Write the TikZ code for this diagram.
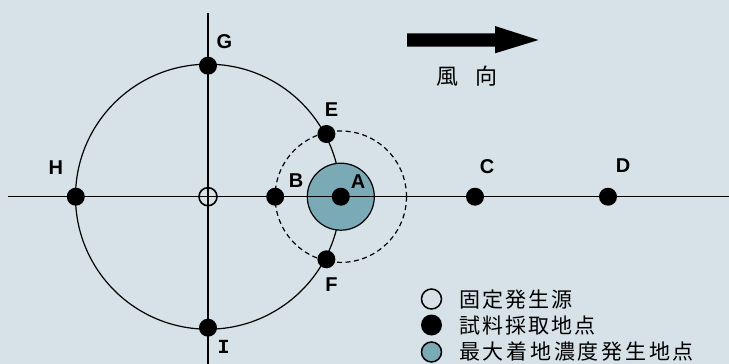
\documentclass[tikz,border=0pt]{standalone}
\usepackage{fontspec}
\setmainfont{Liberation Sans}
\newfontfamily\jp{Noto Sans CJK JP}
\newfontfamily\jpA[LetterSpace=10]{Noto Sans CJK JP}
\newfontfamily\jpB[LetterSpace=13]{Noto Sans CJK JP}
\newfontfamily\serifI{Liberation Mono}
\definecolor{bg}{RGB}{214,226,231}
\definecolor{teal}{RGB}{122,170,181}
\begin{document}
\begin{tikzpicture}[x=1pt,y=-1pt,
  dot/.style={circle,fill=black,inner sep=0pt,minimum size=18pt},
  src/.style={circle,draw=black,line width=1.6pt,inner sep=0pt,minimum size=18pt},
  lbl/.style={font=\fontsize{20}{22}\selectfont\bfseries,inner sep=0pt},
  ax/.style={line width=1.4pt},
  ring/.style={line width=1.2pt},
  legtext/.style={anchor=west,inner sep=0pt,font=\fontsize{21}{24}\selectfont}]
\fill[bg] (0,0) rectangle (729,364);
\useasboundingbox (0,0) rectangle (729,364);
% key coordinates
\coordinate (O) at (208,196.7);
\coordinate (Ac) at (340.8,196.7);
\coordinate (axL) at (8.4,196.7);
\coordinate (axR) at (729,196.7);
\coordinate (axT) at (208,13.3);
\coordinate (axB) at (208,364);
% big circle
\draw[ring] (O) circle[radius=132.5];
% max concentration area
\draw[ring,fill=teal] (Ac) circle[radius=33.5];
% axes
\draw[ax] (axL) -- (axR);
\draw[ax] (axT) -- (axB);
% dashed circle
\draw[ring,dashed,dash pattern=on 5pt off 3.5pt] (Ac) circle[radius=65.7];
% source
\node[src] (src) at (O) {};
% sampling points
\node[dot] (A) at (Ac) {};
\node[dot] (B) at (275.2,196.7) {};
\node[dot] (C) at (475,196.7) {};
\node[dot] (D) at (608,196.7) {};
\node[dot] (E) at (326.4,134) {};
\node[dot] (F) at (326.4,259.3) {};
\node[dot] (G) at (208,65.7) {};
\node[dot] (H) at (75.8,196.7) {};
\node[dot] (I) at (208,327.7) {};
% labels
\node[lbl] (lG) at (224.5,41.7) {G};
\node[lbl] (lE) at (331.5,109.3) {E};
\node[lbl] (lH) at (55.8,167.7) {H};
\node[lbl] (lB) at (296,180.3) {B};
\node[lbl] (lA) at (358,181.7) {A};
\node[lbl] (lC) at (487,166.7) {C};
\node[lbl] (lD) at (623,165.7) {D};
\node[lbl] (lF) at (331.5,285) {F};
\node[lbl,font=\fontsize{20}{22}\selectfont\bfseries\serifI] (lI) at (223.6,346.7) {I};
% wind arrow
\fill[black] (407,33.3) -- (495,33.3) -- (495,26) -- (538.5,40) -- (495,53.3) -- (495,46.7) -- (407,46.7) -- cycle;
\node[inner sep=0pt,font=\fontsize{22}{24}\selectfont\jp] (wind) at (467,76) {風\hspace{17pt}向};
% legend
\node[src,minimum size=20pt,line width=1.5pt] (k1) at (431.5,299) {};
\node[circle,fill=black,inner sep=0pt,minimum size=21pt] (k2) at (431.5,325) {};
\node[circle,draw=black,fill=teal,line width=1.5pt,inner sep=0pt,minimum size=20pt] (k3) at (431.5,352) {};
\node[legtext,font=\fontsize{21}{24}\selectfont\jpA] (t1) at (459,300) {固定発生源};
\node[legtext,font=\fontsize{21}{24}\selectfont\jpA] (t2) at (459,326) {試料採取地点};
\node[legtext,font=\fontsize{21}{24}\selectfont\jpB] (t3) at (459,352) {最大着地濃度発生地点};
\end{tikzpicture}
\end{document}
